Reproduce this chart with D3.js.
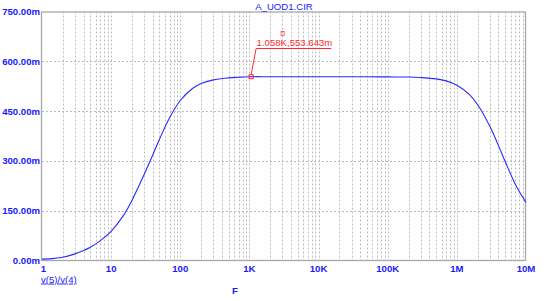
<!DOCTYPE html>
<html>
<head>
<meta charset="utf-8">
<script src="https://cdn.jsdelivr.net/npm/d3@7"></script>
<style>
body{margin:0;background:#fff;}
text{font-family:"Liberation Sans",Arial,sans-serif;}
</style>
</head>
<body>
<div class="chart"></div>
<script>
//////////////////////data//////////////////////
var title="A_UOD1.CIR";
var freq=[1,1.5,2,3,4,5,7,10,15,20,30,40,50,70,100,150,200,300,500,700,
    1e3,2e3,5e3,1e4,2e4,5e4,1e5,2e5,3e5,5e5,7e5,1e6,1.5e6,2e6,3e6,4e6,5e6,7e6,1e7];
//v(5)/v(4) [m]
var gain=[4,6.5,10,20,30,40,60,88,135,181,259,318,365,430,482,518,533,544,550,552,
    553.5,553.6,553.6,553.6,553.6,553.5,553,552.5,551,547,541,528,501,469,404,346,298,230,175];
var yTicks=[0,150,300,450,600,750];
var xTicks=[1,10,100,1e3,1e4,1e5,1e6,1e7];
var xTickLabel=["1","10","100","1K","10K","100K","1M","10M"];
var marker={f:1058,v:553.643,label:"1.058K,553.643m"};

//////////////////////draw//////////////////////
var W=552,H=301;
var x_min=42,x_max=526,y_min=11.5,y_max=260.5;
var blue="#1a1aff";
var svg=d3.select(".chart").append("svg").attr("width",W).attr("height",H);

var xScale=d3.scaleLog().domain([1,1e7]).range([x_min,x_max]);
var yScale=d3.scaleLinear().domain([0,750]).range([y_max,y_min]);

//グリッド（縦）：各decadeの2..9と10の累乗
var vgrid=[];
for(var d=0;d<7;d++){
    for(var k=1;k<10;k++){
        var f=k*Math.pow(10,d);
        if(f>1) vgrid.push(f);
    }
}
svg.append("g").selectAll("line").data(vgrid).enter().append("line")
    .attr("x1",function(d){return Math.round(xScale(d))+0.5;})
    .attr("x2",function(d){return Math.round(xScale(d))+0.5;})
    .attr("y1",y_min).attr("y2",y_max)
    .attr("stroke","#bcbcbc").attr("stroke-width",1).attr("stroke-dasharray","2,2");
//グリッド（横）
svg.append("g").selectAll("line").data(yTicks.slice(1,-1)).enter().append("line")
    .attr("x1",x_min).attr("x2",x_max)
    .attr("y1",function(d){return Math.round(yScale(d))+0.5;})
    .attr("y2",function(d){return Math.round(yScale(d))+0.5;})
    .attr("stroke","#bcbcbc").attr("stroke-width",1).attr("stroke-dasharray","2,2");

//枠
svg.append("rect").attr("x",x_min-0.5).attr("y",y_min+0.5)
    .attr("width",x_max-x_min).attr("height",y_max-y_min-0.5)
    .attr("fill","none").attr("stroke","#a8a8a8").attr("stroke-width",1.3);

//y軸ラベル
svg.append("g").selectAll("text").data(yTicks).enter().append("text")
    .attr("x",x_min-2).attr("y",function(d){return yScale(d)+3.5;})
    .attr("text-anchor","end").attr("font-size","9.6px").attr("font-weight","bold")
    .attr("fill",blue).text(function(d){return d3.format(".2f")(d)+"m";});
//x軸ラベル
svg.append("g").selectAll("text").data(xTicks).enter().append("text")
    .attr("x",function(d,i){return xScale(d)+(i==0?1.5:0);}).attr("y",271.5)
    .attr("text-anchor","middle").attr("font-size","9.6px").attr("font-weight","bold")
    .attr("fill",blue).text(function(d,i){return xTickLabel[i];});

//タイトル
svg.append("text").attr("x",(x_min+x_max)/2).attr("y",9.5).attr("text-anchor","middle")
    .attr("font-size","9.6px").attr("fill",blue).text(title);
//系列名・軸名
svg.append("text").attr("x",41).attr("y",282.5).attr("font-size","9.6px")
    .attr("fill",blue).attr("text-decoration","underline").text("v(5)/v(4)");
svg.append("text").attr("x",235).attr("y",294).attr("text-anchor","middle")
    .attr("font-size","9.6px").attr("font-weight","bold").attr("fill",blue).text("F");

//曲線
var pts=freq.map(function(f,i){return [f,gain[i]];});
var line=d3.line()
    .x(function(d){return xScale(d[0]);})
    .y(function(d){return yScale(d[1]);})
    .curve(d3.curveCatmullRom.alpha(0.5));
svg.append("path").datum(pts).attr("d",line)
    .attr("fill","none").attr("stroke","#2a2aff").attr("stroke-width",1.1);

//マーカー
var mx=xScale(marker.f),my=yScale(marker.v);
var red="#ff2a2a";
svg.append("polyline")
    .attr("points",[[mx,my-2],[mx+5,y_min+37],[mx+80,y_min+37]].map(function(p){return p.join(",");}).join(" "))
    .attr("fill","none").attr("stroke",red).attr("stroke-width",1);
svg.append("rect").attr("x",mx-2).attr("y",my-2).attr("width",4).attr("height",4)
    .attr("fill","none").attr("stroke",red).attr("stroke-width",1);
svg.append("text").attr("x",mx+5.5).attr("y",y_min+34).attr("font-size","9.6px")
    .attr("fill",red).text(marker.label);
svg.append("rect").attr("x",mx+30).attr("y",y_min+20).attr("width",3).attr("height",4)
    .attr("fill","none").attr("stroke",red).attr("stroke-width",0.7);
</script>
</body>
</html>
